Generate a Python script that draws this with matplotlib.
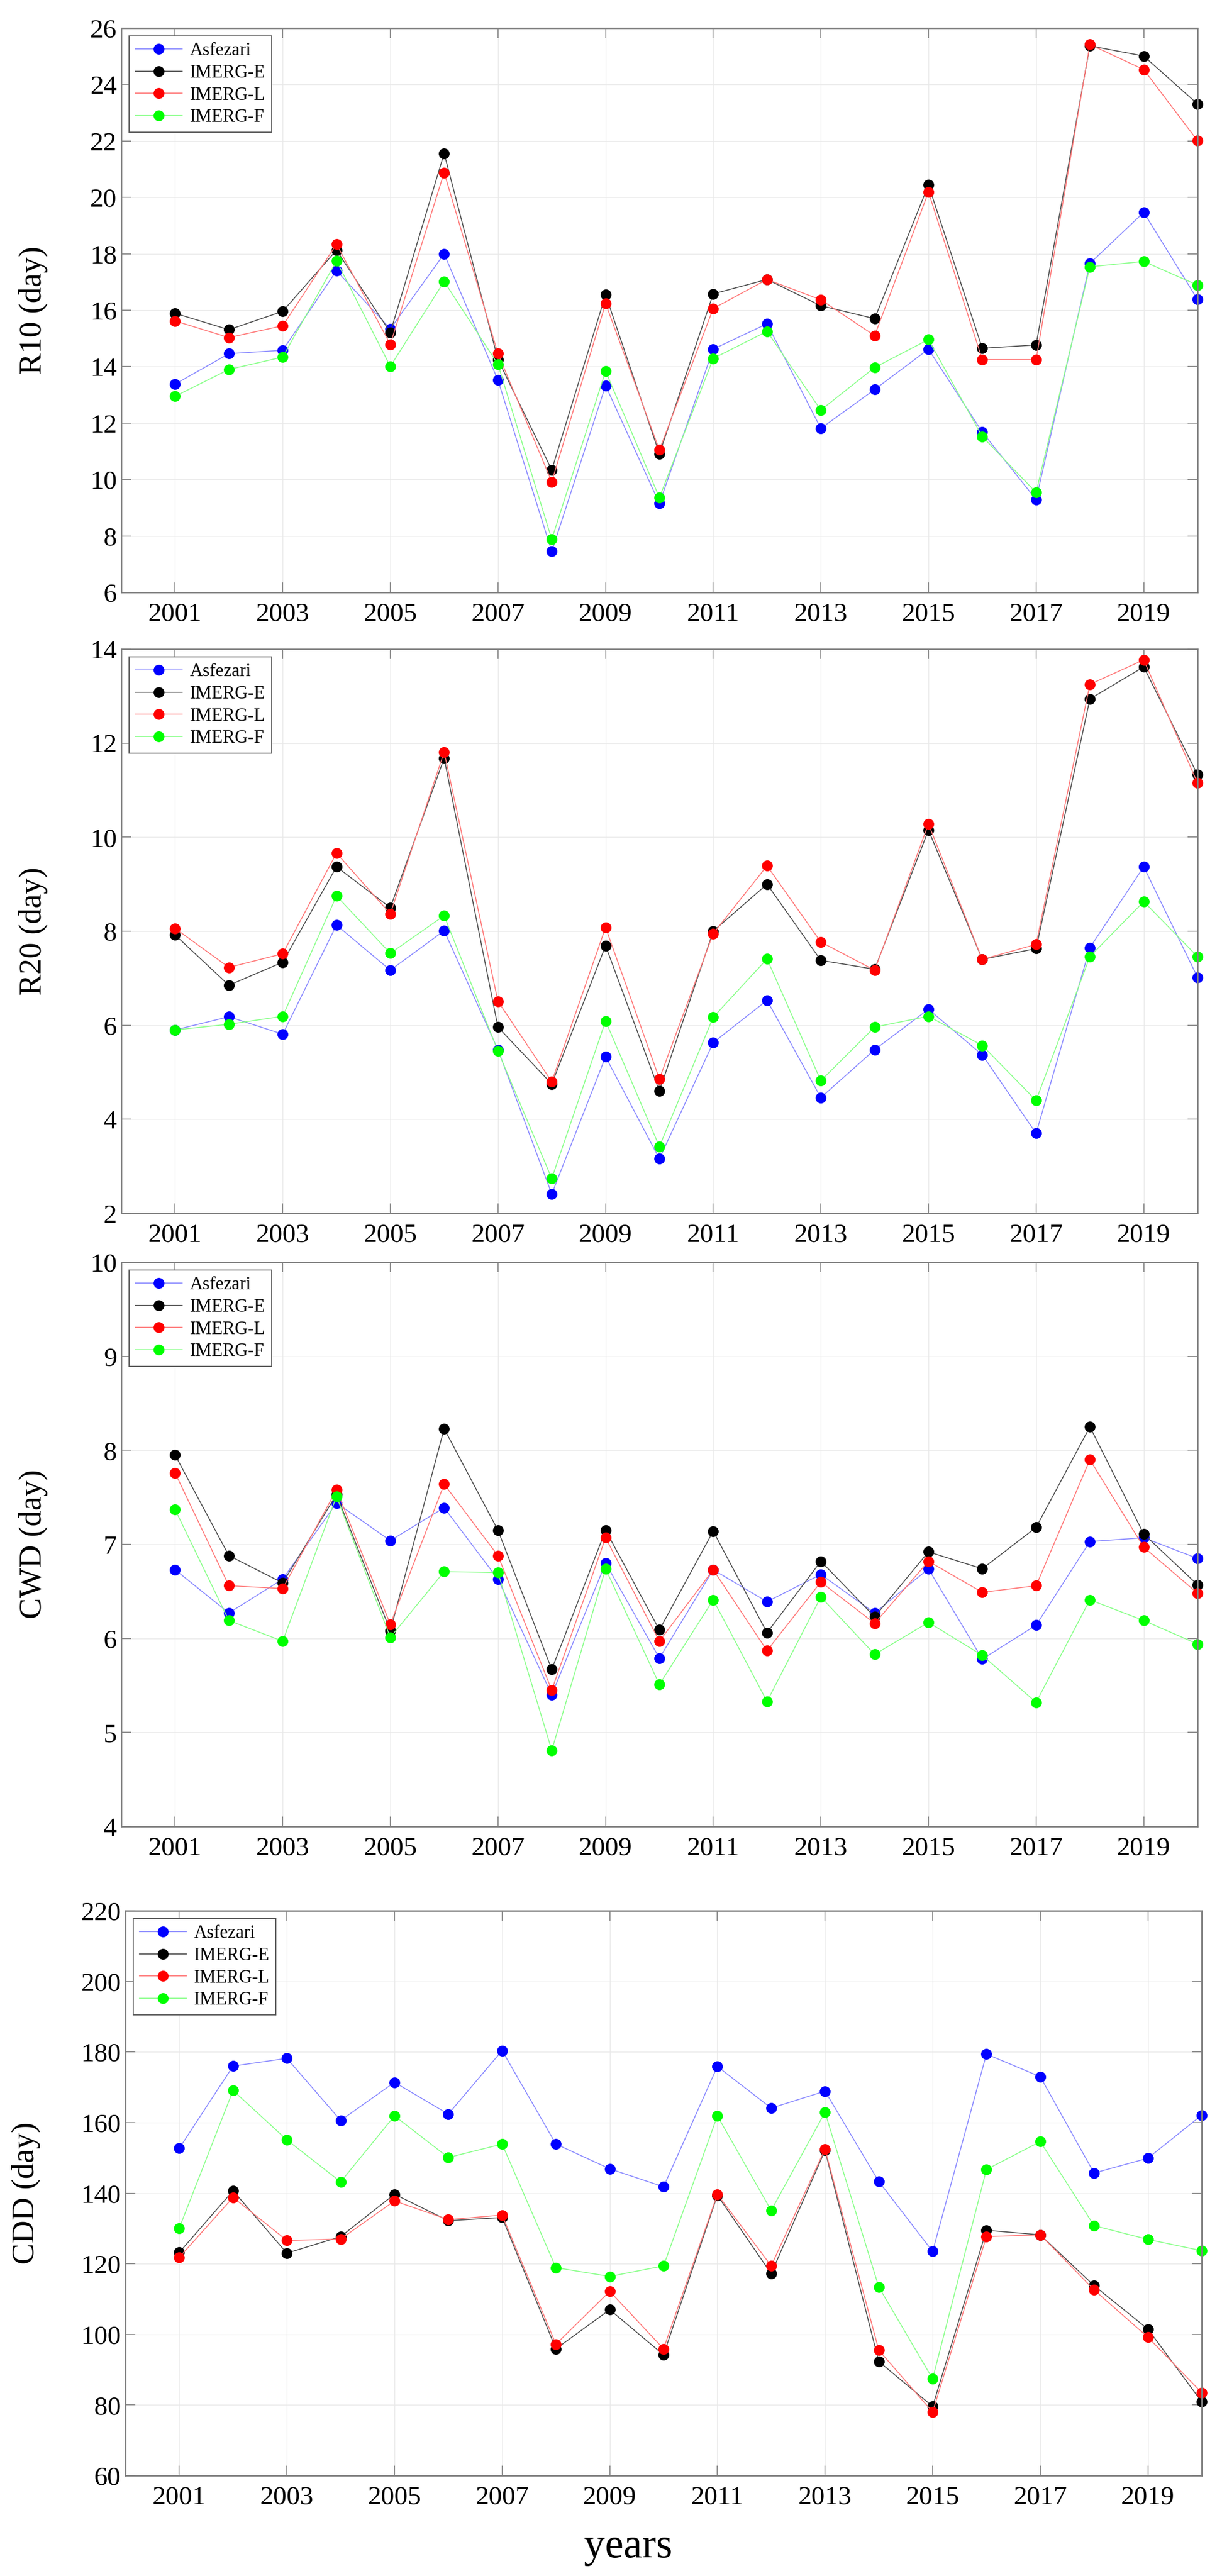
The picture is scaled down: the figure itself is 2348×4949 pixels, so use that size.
import numpy as np
import matplotlib
matplotlib.use('Agg')
import matplotlib.pyplot as plt

plt.rcParams['font.family'] = ['Liberation Serif', 'DejaVu Serif']

years = list(range(2001, 2021))
series_names = ['Asfezari', 'IMERG-E', 'IMERG-L', 'IMERG-F']

# R10 (day)
r10_asfezari = [13.38, 14.46, 14.58, 17.40, 15.34, 18.00, 13.52, 7.45, 13.33, 9.15,
                14.62, 15.52, 11.81, 13.19, 14.62, 11.68, 9.29, 17.66, 19.47, 16.38]
r10_imerg_e = [15.89, 15.31, 15.96, 18.13, 15.21, 21.56, 14.25, 10.34, 16.55, 10.91,
               16.58, 17.09, 16.16, 15.70, 20.44, 14.65, 14.77, 25.37, 25.01, 23.31]
r10_imerg_l = [15.62, 15.03, 15.45, 18.34, 14.79, 20.88, 14.46, 9.92, 16.24, 11.05,
               16.06, 17.09, 16.37, 15.10, 20.19, 14.25, 14.25, 25.42, 24.53, 22.01]
r10_imerg_f = [12.95, 13.90, 14.34, 17.75, 14.01, 17.02, 14.08, 7.88, 13.84, 9.36,
               14.29, 15.25, 12.46, 13.97, 14.96, 11.52, 9.54, 17.54, 17.73, 16.89]

# R20 (day)
r20_asfezari = [5.90, 6.18, 5.81, 8.13, 7.17, 8.01, 5.48, 2.41, 5.33, 3.16,
                5.63, 6.53, 4.46, 5.48, 6.34, 5.37, 3.70, 7.65, 9.37, 7.02]
r20_imerg_e = [7.92, 6.85, 7.34, 9.37, 8.50, 11.68, 5.96, 4.75, 7.69, 4.60,
               8.00, 9.00, 7.38, 7.19, 10.15, 7.40, 7.63, 12.94, 13.62, 11.33]
r20_imerg_l = [8.06, 7.23, 7.52, 9.66, 8.37, 11.81, 6.51, 4.80, 8.08, 4.86,
               7.95, 9.39, 7.77, 7.17, 10.28, 7.40, 7.72, 13.25, 13.77, 11.15]
r20_imerg_f = [5.90, 6.02, 6.19, 8.75, 7.53, 8.33, 5.45, 2.74, 6.09, 3.42,
               6.17, 7.41, 4.82, 5.96, 6.19, 5.57, 4.40, 7.46, 8.63, 7.46]

# CWD (day)
cwd_asfezari = [6.73, 6.27, 6.63, 7.44, 7.04, 7.39, 6.63, 5.40, 6.80, 5.79,
                6.73, 6.39, 6.68, 6.27, 6.74, 5.78, 6.14, 7.03, 7.07, 6.85]
cwd_imerg_e = [7.95, 6.88, 6.59, 7.53, 6.08, 8.23, 7.15, 5.67, 7.15, 6.09,
               7.14, 6.06, 6.82, 6.23, 6.92, 6.74, 7.18, 8.25, 7.11, 6.57]
cwd_imerg_l = [7.76, 6.56, 6.53, 7.58, 6.15, 7.64, 6.88, 5.45, 7.07, 5.97,
               6.73, 5.87, 6.60, 6.16, 6.82, 6.49, 6.56, 7.90, 6.97, 6.48]
cwd_imerg_f = [7.37, 6.19, 5.97, 7.51, 6.01, 6.71, 6.70, 4.81, 6.74, 5.51,
               6.41, 5.33, 6.44, 5.83, 6.17, 5.82, 5.32, 6.41, 6.19, 5.94]

# CDD (day)
cdd_asfezari = [152.7, 176.0, 178.2, 160.6, 171.4, 162.4, 180.4, 153.9, 146.9, 141.8,
                175.9, 164.1, 168.9, 143.3, 123.5, 179.4, 173.0, 145.7, 149.9, 162.1]
cdd_imerg_e = [123.2, 140.7, 123.0, 127.7, 139.7, 132.2, 133.1, 95.9, 107.0, 94.2,
               139.4, 117.2, 152.1, 92.3, 79.6, 129.5, 128.2, 113.8, 101.5, 80.9]
cdd_imerg_l = [121.8, 138.8, 126.6, 127.0, 137.8, 132.5, 133.8, 97.2, 112.2, 95.9,
               139.7, 119.4, 152.5, 95.5, 78.0, 127.7, 128.2, 112.6, 99.2, 83.5]
cdd_imerg_f = [130.1, 169.1, 155.1, 143.2, 161.9, 150.1, 153.9, 118.9, 116.4, 119.4,
               161.9, 135.1, 162.9, 113.4, 87.4, 146.7, 154.6, 130.8, 126.9, 123.7]

panels = [
    ('R10 (day)', [r10_asfezari, r10_imerg_e, r10_imerg_l, r10_imerg_f], (6, 26), np.arange(6, 27, 2)),
    ('R20 (day)', [r20_asfezari, r20_imerg_e, r20_imerg_l, r20_imerg_f], (2, 14), np.arange(2, 15, 2)),
    ('CWD (day)', [cwd_asfezari, cwd_imerg_e, cwd_imerg_l, cwd_imerg_f], (4, 10), np.arange(4, 11, 1)),
    ('CDD (day)', [cdd_asfezari, cdd_imerg_e, cdd_imerg_l, cdd_imerg_f], (60, 220), np.arange(60, 221, 20)),
]

marker_colors = ['#0000ff', '#000000', '#ff0000', '#00ff00']
line_colors = ['#8c8cff', '#505050', '#ff7a7a', '#8cff8c']

W, H = 2348, 4949
fig = plt.figure(figsize=(W / 100, H / 100), dpi=100)

# axes boxes in pixels: left, top, right, bottom
boxes = [(233, 54, 2301, 1138), (233, 1247, 2301, 2331),
         (233, 2425, 2301, 3509), (241, 3671, 2309, 4756)]
label_right = [92, 92, 92, 78]

for (ylab, data, ylim, yticks), box, lx in zip(panels, boxes, label_right):
    l, t, r, b = box
    ax = fig.add_axes([l / W, 1 - b / H, (r - l) / W, (b - t) / H])
    for name, vals, mc, lc in zip(series_names, data, marker_colors, line_colors):
        ax.plot(years, vals, color=lc, lw=1.3, marker='o', ms=14, mfc=mc, mec=mc,
                label=name, clip_on=False)
    ax.set_xlim(2000, 2020)
    ax.set_ylim(*ylim)
    ax.set_xticks(range(2001, 2020, 2))
    ax.set_yticks(yticks)
    ax.grid(True, color='#e8e8e8', lw=1.0)
    ax.set_axisbelow(True)
    ax.tick_params(direction='in', length=14, width=1.2, color='#808080',
                   top=True, right=True, labelsize=37)
    ax.tick_params(axis='x', pad=14)
    ax.tick_params(axis='y', pad=6)
    for sp in ax.spines.values():
        sp.set_color('#808080')
        sp.set_linewidth(2)
    ax.set_ylabel(ylab, fontsize=44)
    ax.yaxis.set_label_coords((lx - l) / (r - l), 0.5)
    leg = ax.legend(loc='upper left', bbox_to_anchor=(15 / (r - l), 1 - 15 / (b - t)),
                    borderaxespad=0, fontsize=25, fancybox=False, framealpha=1,
                    edgecolor='#606060', handlelength=2.6, labelspacing=0.28,
                    borderpad=0.35, handletextpad=0.4)
    leg.get_frame().set_linewidth(1.5)

fig.text(1207 / W, 1 - 4893 / H, 'years', fontsize=58, ha='center', va='center')

fig.savefig('out.png', dpi=100, facecolor='white')
